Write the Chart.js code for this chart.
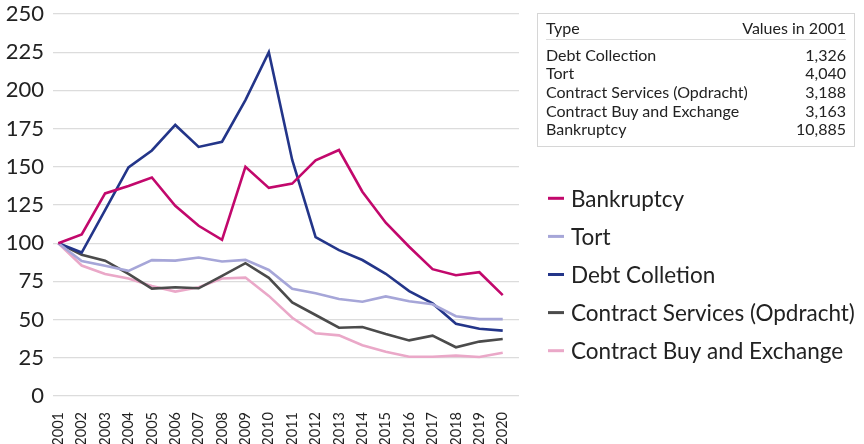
<!DOCTYPE html>
<html><head><meta charset="utf-8">
<script src="https://cdn.jsdelivr.net/npm/chart.js@4"></script>
<style>
html,body{margin:0;padding:0;background:#fff;}
#wrap{position:relative;width:864px;height:444px;overflow:hidden;}
#c{position:absolute;left:0;top:0;}
#tbl{position:absolute;left:537px;top:13px;width:318px;height:134px;border:1px solid #d6d6d6;box-sizing:border-box;font-family:Lato,sans-serif;font-size:16px;color:#222;}
#tbl .row{position:absolute;left:8px;right:8px;height:19px;line-height:19px;white-space:nowrap;}
#tbl .row span.r{position:absolute;right:0;top:0;}
#tbl .sep{position:absolute;left:8px;right:8px;top:25px;height:0;border-top:1px solid #dcdcdc;}
</style></head><body>
<div id="wrap"><canvas id="c" width="864" height="444"></canvas><div id="tbl"></div></div>
<script>
const years = [2001,2002,2003,2004,2005,2006,2007,2008,2009,2010,2011,2012,2013,2014,2015,2016,2017,2018,2019,2020];
const bankruptcy = [100,105.7,132.6,137.5,143,124.5,111.4,102.2,150,136.2,139,154.3,161,133.7,113.4,97.7,83,79,81,66];
const tort = [100,88.4,85.2,81.9,88.9,88.6,90.6,88,89.1,82.5,70.2,67.2,63.5,61.7,65.2,62,60,52.2,50.3,50.3];
const debtCollection = [100,93.9,121.7,149.6,160.7,177.4,163,166.4,193.7,225,154.5,104,95.5,89,80,68.7,60.6,47.3,44,42.8];
const contractServices = [100,92.4,88.6,79.9,70.3,71.2,70.5,78.6,86.9,77.3,61.3,53,44.7,45.2,40.6,36.4,39.5,31.9,35.6,37.3];
const contractBuy = [100,85.4,79.9,76.9,72,68.3,71.2,76.9,77.5,65.5,51.2,41,39.7,33.2,29,25.7,25.7,26.4,25.5,28.3];
const seriesLabels = ['Bankruptcy','Tort','Debt Colletion','Contract Services (Opdracht)','Contract Buy and Exchange'];
const seriesColors = ['#c2086c','#a6a6d8','#233589','#4b4b4b','#eaa8c8'];
const yTicks = [0,25,50,75,100,125,150,175,200,225,250];
const tableHeader = ['Type','Values in 2001'];
const tableTypes = ['Debt Collection','Tort','Contract Services (Opdracht)','Contract Buy and Exchange','Bankruptcy'];
const tableValues = ['1,326','4,040','3,188','3,163','10,885'];

const seriesValues = [bankruptcy, tort, debtCollection, contractServices, contractBuy];

// table
const tbl = document.getElementById('tbl');
function addRow(a, b, top){
  const d = document.createElement('div'); d.className='row'; d.style.top = top+'px';
  const l = document.createElement('span'); l.textContent = a;
  const r = document.createElement('span'); r.className='r'; r.textContent = b;
  d.appendChild(l); d.appendChild(r); tbl.appendChild(d);
}
addRow(tableHeader[0], tableHeader[1], 4);
const sep = document.createElement('div'); sep.className='sep'; tbl.appendChild(sep);
tableTypes.forEach((t,i)=>addRow(t, tableValues[i], 30.5 + i*18.7));

const sideLegend = {
  id:'sideLegend',
  afterDraw(chart){
    const c = chart.ctx; c.save();
    c.font = '22.5px Lato'; c.textBaseline = 'middle'; c.textAlign = 'left';
    chart.data.datasets.forEach((ds,i)=>{
      const y = 198.3 + i*38.1;
      c.fillStyle = ds.borderColor; c.fillRect(548, y-1.5, 16, 3);
      c.fillStyle = '#222'; c.fillText(ds.label, 571, y+1);
    });
    c.restore();
  }
};

new Chart(document.getElementById('c'), {
  type:'line',
  data:{
    datasets: seriesLabels.map((lab,k)=>({
      label: lab,
      data: years.map((yr,i)=>({x:yr, y:seriesValues[k][i]})),
      borderColor: seriesColors[k],
      backgroundColor: seriesColors[k],
      borderWidth: 2.6,
      pointRadius: 0,
      tension: 0,
      fill: false
    }))
  },
  options:{
    responsive:false,
    animation:false,
    layout:{padding:{top:14,right:345,left:0,bottom:0}},
    plugins:{legend:{display:false}, tooltip:{enabled:false}},
    scales:{
      x:{
        type:'linear', min:2000.773, max:2020.696,
        afterBuildTicks:s=>{ s.ticks = years.map(v=>({value:v})); },
        afterFit:s=>{ s.height = 48; s.paddingLeft = 0; s.paddingRight = 0; },
        grid:{display:false}, border:{display:false},
        ticks:{minRotation:90, maxRotation:90, autoSkip:false, padding:8,
          font:{family:'Lato', size:14.5}, color:'#222', callback:v=>String(v)}
      },
      y:{
        min:0, max:250,
        afterBuildTicks:s=>{ s.ticks = yTicks.map(v=>({value:v})); },
        afterFit:s=>{ s.width = 53; s.paddingTop = 0; s.paddingBottom = 0; },
        grid:{color:'#dcdcdc', lineWidth:1.3, drawTicks:false},
        border:{display:false},
        ticks:{padding:9, font:{family:'Lato', size:22}, color:'#222', callback:v=>String(v)}
      }
    }
  },
  plugins:[sideLegend]
});
</script>
</body></html>
